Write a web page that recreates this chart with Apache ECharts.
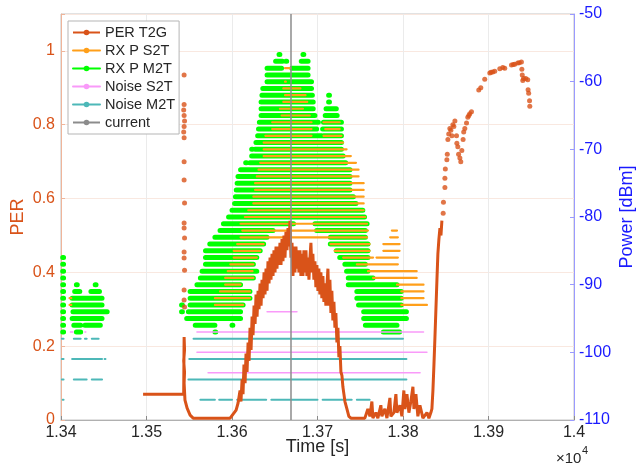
<!DOCTYPE html>
<html>
<head>
<meta charset="utf-8">
<script src="https://cdn.jsdelivr.net/npm/echarts@6/dist/echarts.min.js"></script>
<style>
  html, body { margin: 0; padding: 0; background: #fff; }
  #chart { width: 636px; height: 468px; }
</style>
</head>
<body>
<div id="chart"></div>
<script>
// x axis: time in seconds (labels shown as x10^4)
const xTicks = [13400, 13500, 13600, 13700, 13800, 13900, 14000]
const perTicks = [0, 0.2, 0.4, 0.6, 0.8, 1]
const powerTicks = [-110, -100, -90, -80, -70, -60, -50]
const currentTime = 13669

// PER T2G, connected part [time, PER]
const perLine = [
  [13496, 0.07], [13504, 0.07], [13512, 0.07], [13521, 0.07], [13529, 0.07], [13537, 0.07], [13543.5, 0.07],
  [13544, 0.225], [13544.5, 0.19], [13543.5, 0.16], [13544.5, 0.13], [13544, 0.1], [13545, 0.054],
  [13547.5, 0.032], [13551, 0.013], [13554.6, 0.005], [13597.8, 0.005], [13601.3, 0.016], [13604.8, 0.027],
  [13607.1, 0.046], [13609.4, 0.08], [13610.5, 0.05], [13611.8, 0.11], [13612.9, 0.07], [13614, 0.15],
  [13615.3, 0.1], [13616.4, 0.18], [13617.6, 0.13], [13618.8, 0.21], [13620, 0.16], [13621.1, 0.25],
  [13622.3, 0.19], [13623.5, 0.28], [13624.6, 0.23], [13625.8, 0.31], [13627, 0.26], [13628.1, 0.34],
  [13629.3, 0.28], [13630.5, 0.35], [13631.6, 0.3], [13632.8, 0.37], [13634, 0.31], [13635.1, 0.38],
  [13636.3, 0.33], [13637.5, 0.4], [13638.6, 0.34], [13639.8, 0.41], [13641, 0.35], [13642.1, 0.43],
  [13643.3, 0.37], [13644.5, 0.44], [13645.6, 0.38], [13646.8, 0.45], [13648, 0.39], [13649.1, 0.46],
  [13650.3, 0.4], [13651.5, 0.47], [13652.6, 0.41], [13653.8, 0.47], [13655, 0.42], [13656.1, 0.48],
  [13657.3, 0.42], [13658.5, 0.49], [13659.6, 0.43], [13660.8, 0.5], [13662, 0.44], [13663.1, 0.51],
  [13664.3, 0.46], [13665.5, 0.52], [13666.6, 0.47], [13667.8, 0.54], [13669, 0.44], [13670.2, 0.48],
  [13671.3, 0.39], [13672.5, 0.47], [13673.6, 0.4], [13674.8, 0.47], [13676, 0.41], [13677.1, 0.46],
  [13678.3, 0.4], [13679.5, 0.46], [13680.6, 0.39], [13681.8, 0.45], [13683, 0.39], [13684.1, 0.46],
  [13685.3, 0.4], [13686.5, 0.46], [13687.6, 0.39], [13688.8, 0.44], [13690, 0.38], [13691.2, 0.44],
  [13692.3, 0.48], [13693.5, 0.4], [13694.6, 0.45], [13695.8, 0.38], [13697, 0.43], [13698.1, 0.36],
  [13699.3, 0.42], [13700.5, 0.35], [13701.6, 0.41], [13702.8, 0.34], [13704, 0.4], [13705.1, 0.33],
  [13706.3, 0.39], [13707.5, 0.32], [13708.6, 0.37], [13709.8, 0.31], [13711, 0.36], [13712.2, 0.41],
  [13713.3, 0.31], [13714.5, 0.38], [13715.7, 0.29], [13716.8, 0.35], [13718, 0.27], [13719.2, 0.32],
  [13720.4, 0.25], [13721.5, 0.29], [13722.7, 0.21], [13723.9, 0.25], [13725, 0.17], [13726.2, 0.2],
  [13727.4, 0.13], [13728.6, 0.12], [13729.7, 0.09], [13730.9, 0.07], [13732.1, 0.05],
  [13734.4, 0.03], [13736.7, 0.01], [13739.1, 0.005], [13755.4, 0.005], [13758.9, 0.03], [13761.3, 0.01],
  [13763.6, 0.05], [13764.8, 0.005], [13768.3, 0.02], [13770.6, 0.005], [13774.1, 0.04], [13775.3, 0.01],
  [13778.8, 0.03], [13781.2, 0.005], [13784.7, 0.06], [13785.8, 0.01], [13789.3, 0.02], [13791.7, 0.07],
  [13792.9, 0.02], [13796.4, 0.04], [13798.7, 0.01], [13801, 0.08], [13802.2, 0.03], [13804.6, 0.07],
  [13806.9, 0.02], [13809.2, 0.05], [13811.6, 0.09], [13812.8, 0.03], [13815.1, 0.07], [13817.4, 0.01],
  [13819.8, 0.04], [13823.3, 0.005], [13828, 0.02], [13830.3, 0.005], [13832.6, 0.02], [13833.8, 0.03],
  [13835, 0.08], [13836.2, 0.15], [13837.3, 0.22], [13838.5, 0.3], [13839.7, 0.38], [13840.8, 0.45],
  [13842, 0.49], [13843.2, 0.52], [13844.4, 0.5], [13845.5, 0.54]
]

// PER T2G, isolated markers [time, PER]
const perDots = [
  [13544, 0.935], [13544, 0.855], [13543.5, 0.84], [13544, 0.825], [13544.5, 0.81], [13544, 0.795],
  [13543.5, 0.78], [13544, 0.765], [13544, 0.7], [13544, 0.65], [13544.5, 0.588], [13544, 0.534],
  [13544, 0.52], [13544.5, 0.493], [13544, 0.455], [13544, 0.439], [13544.5, 0.406], [13544, 0.352],
  [13544, 0.325], [13544.5, 0.306],
  [13847, 0.56], [13847.3, 0.59], [13849, 0.63], [13849, 0.655], [13849.5, 0.68], [13851.3, 0.705],
  [13851.8, 0.72], [13852.5, 0.76], [13853.5, 0.775], [13854.8, 0.79], [13856, 0.785], [13857.2, 0.77],
  [13858.3, 0.8], [13859.5, 0.795], [13860.7, 0.81], [13862.6, 0.77], [13863, 0.75], [13864.1, 0.74],
  [13865, 0.72], [13866.5, 0.71], [13867.6, 0.7], [13868.8, 0.73], [13870.3, 0.76], [13871, 0.78],
  [13872.3, 0.79], [13874.3, 0.805], [13875.8, 0.82], [13877, 0.825], [13878.1, 0.83], [13880.1, 0.835],
  [13888.6, 0.894], [13891, 0.9], [13895.6, 0.923], [13901.5, 0.94], [13903, 0.942], [13905, 0.943],
  [13907.3, 0.945], [13913.2, 0.952], [13916.7, 0.955], [13919, 0.953], [13926.9, 0.962], [13929, 0.963],
  [13930.7, 0.964], [13934.2, 0.967], [13936, 0.968], [13938.5, 0.97], [13939, 0.95], [13939.5, 0.935],
  [13940.1, 0.92], [13941, 0.925], [13943.6, 0.925], [13945.9, 0.922], [13946.3, 0.895], [13947, 0.885],
  [13948, 0.865], [13948.3, 0.85]
]

// RX P M2T rows: [dBm, tStart, tEnd]
const m2tSeg = [
  [-56, 13655, 13656], [-56, 13683, 13684],
  [-57, 13651, 13659], [-57, 13663, 13664], [-57, 13681, 13689],
  [-58, 13641, 13658], [-58, 13670, 13689],
  [-59, 13641, 13689], [-60, 13641, 13693], [-61, 13636, 13693],
  [-62, 13635, 13694], [-62, 13713, 13714],
  [-63, 13634, 13695], [-63, 13713, 13714],
  [-64, 13634, 13695], [-64, 13710, 13722],
  [-65, 13634, 13697], [-65, 13709, 13723],
  [-66, 13632, 13701], [-66, 13707, 13728],
  [-67, 13631, 13699], [-67, 13706, 13728],
  [-68, 13630, 13705], [-68, 13707, 13728],
  [-69, 13628, 13728],
  [-70, 13623, 13624], [-70, 13627, 13728],
  [-71, 13623, 13624], [-71, 13625, 13730],
  [-72, 13616, 13617], [-72, 13621, 13733],
  [-73, 13610, 13738], [-74, 13607, 13738], [-75, 13606, 13738], [-76, 13605, 13738],
  [-77, 13604, 13742], [-78, 13603, 13745], [-79, 13600, 13753], [-80, 13596, 13755],
  [-81, 13590, 13672], [-81, 13697, 13758],
  [-82, 13586, 13648], [-82, 13699, 13756],
  [-83, 13580, 13641], [-83, 13715, 13756],
  [-84, 13574, 13637], [-84, 13715, 13759],
  [-85, 13569, 13633], [-85, 13722, 13759],
  [-86, 13569, 13629], [-86, 13726, 13759],
  [-87, 13569, 13625], [-87, 13732, 13756],
  [-88, 13565, 13629], [-88, 13734, 13759],
  [-89, 13563, 13625], [-89, 13736, 13765],
  [-90, 13559, 13610], [-90, 13736, 13793],
  [-91, 13551, 13621], [-91, 13746, 13798],
  [-92, 13551, 13621], [-92, 13746, 13798],
  [-93, 13541, 13542], [-93, 13551, 13613], [-93, 13748, 13798],
  [-94, 13541, 13542], [-94, 13549, 13610], [-94, 13754, 13804],
  [-95, 13547, 13610], [-95, 13754, 13804],
  [-96, 13557, 13580], [-96, 13600, 13601], [-96, 13756, 13793],
  [-97, 13580, 13581], [-97, 13777, 13796],
  [-86, 13402, 13403], [-87, 13402, 13403], [-88, 13402, 13403], [-89, 13402, 13403],
  [-90, 13402, 13403], [-91, 13402, 13403], [-92, 13402, 13403], [-93, 13402, 13403],
  [-94, 13402, 13403], [-95, 13402, 13403], [-96, 13402, 13403], [-97, 13402, 13403],
  [-90, 13418, 13419], [-90, 13440, 13441],
  [-91, 13416, 13422], [-91, 13435, 13445],
  [-92, 13413, 13448], [-93, 13413, 13448], [-94, 13414, 13454], [-95, 13413, 13448],
  [-96, 13415, 13423], [-96, 13428, 13446], [-97, 13418, 13423]
]

// RX P S2T rows: [dBm, tStart, tEnd]
const s2tSeg = [
  [-58, 13662, 13668], [-60, 13662, 13663], [-61, 13660, 13680],
  [-62, 13662, 13686], [-63, 13660, 13688], [-64, 13656, 13683], [-65, 13658, 13691],
  [-66, 13647, 13693], [-66, 13707, 13726],
  [-67, 13647, 13693], [-67, 13709, 13726],
  [-68, 13639, 13693], [-68, 13707, 13728],
  [-69, 13637, 13730], [-70, 13637, 13734], [-71, 13637, 13739], [-72, 13633, 13745],
  [-73, 13631, 13748], [-74, 13629, 13748], [-75, 13627, 13754], [-76, 13627, 13754],
  [-77, 13625, 13754], [-78, 13625, 13754], [-79, 13619, 13754], [-80, 13615, 13756],
  [-81, 13610, 13758],
  [-82, 13612, 13759], [-82, 13787, 13793],
  [-83, 13610, 13758], [-83, 13785, 13794],
  [-84, 13606, 13637], [-84, 13715, 13761], [-84, 13777, 13796],
  [-85, 13602, 13633], [-85, 13720, 13761], [-85, 13777, 13796],
  [-86, 13602, 13629], [-86, 13730, 13765], [-86, 13769, 13794],
  [-87, 13598, 13625], [-87, 13746, 13794],
  [-88, 13595, 13624], [-88, 13759, 13816],
  [-89, 13592, 13625], [-89, 13765, 13816],
  [-90, 13592, 13610], [-90, 13793, 13824],
  [-91, 13586, 13621], [-91, 13798, 13824],
  [-92, 13580, 13621], [-92, 13798, 13824], [-92, 13410, 13412],
  [-93, 13580, 13613], [-93, 13798, 13828], [-93, 13410, 13412]
]

// Noise S2T rows: [dBm, tStart, tEnd]
const ns2tSeg = [
  [-94, 13641, 13676], [-97, 13559, 13824], [-100, 13559, 13828], [-103, 13572, 13820],
  [-97, 13411, 13414], [-97, 13428, 13429]
]

// Noise M2T rows: [dBm, tStart, tEnd]
const nm2tSeg = [
  [-98, 13555, 13800], [-101, 13550, 13804], [-104, 13549, 13804],
  [-107, 13563, 13580], [-107, 13585, 13600], [-107, 13606, 13640], [-107, 13646, 13700],
  [-107, 13706, 13740], [-107, 13746, 13761],
  [-98, 13401, 13403], [-98, 13415, 13423], [-98, 13428, 13430], [-98, 13436, 13444],
  [-101, 13401, 13403], [-101, 13413, 13448], [-101, 13451, 13452],
  [-104, 13401, 13403], [-104, 13415, 13430], [-104, 13436, 13448], [-107, 13402, 13403]
]

const colors = {
  per: '#D95319',
  s2t: '#FF9F1A',
  m2t: '#00FF00',
  ns2t: '#F99AF9',
  nm2t: '#4DB8B8',
  current: '#8C8C8C',
}

const FONT = 'Liberation Sans, Arial, Helvetica, sans-serif'

// turn row segments into a broken line
const segData = (rows) => {
  const out = []
  rows.forEach(([p, t0, t1]) => {
    out.push([t0, p], [t1, p], [t1, '-'])
  })
  return out
}

const chart = echarts.init(document.getElementById('chart'), null, { renderer: 'canvas' })

const rowSeries = (name, rows, color, width, z) => ({
  name,
  type: 'line',
  yAxisIndex: 1,
  data: segData(rows),
  symbol: 'none',
  connectNulls: false,
  animation: false,
  silent: true,
  z,
  itemStyle: { color },
  lineStyle: { color, width, cap: 'round' },
})

const option = {
  animation: false,
  grid: {
    left: 61, right: 62, top: 14, bottom: 48,
    outerBoundsMode: 'none',
    show: true, borderColor: '#c4c4c4', borderWidth: 1,
  },
  legend: {
    orient: 'vertical',
    left: 68,
    top: 21,
    padding: [4, 4, 4, 4],
    itemGap: 3,
    itemWidth: 27,
    itemHeight: 7,
    backgroundColor: '#fff',
    borderColor: '#b5b5b5',
    borderWidth: 1,
    borderRadius: 0,
    selectedMode: false,
    lineStyle: { width: 2 },
    textStyle: { fontFamily: FONT, fontSize: 14.5, color: '#262626' },
    data: ['PER T2G', 'RX P S2T', 'RX P M2T', 'Noise S2T', 'Noise M2T', 'current'],
  },
  xAxis: {
    type: 'value',
    min: xTicks[0],
    max: xTicks[xTicks.length - 1],
    interval: 100,
    name: 'Time [s]',
    nameLocation: 'middle',
    nameGap: 18,
    nameMoveOverlap: false,
    nameTextStyle: { fontFamily: FONT, fontSize: 18, color: '#262626' },
    axisLine: { lineStyle: { color: '#b0b0b0' } },
    axisTick: { inside: true, length: 4, lineStyle: { color: '#8a8a8a' } },
    axisLabel: {
      fontFamily: FONT, fontSize: 16, color: '#262626', margin: 5,
      formatter: (v) => String(+(v / 10000).toFixed(2)),
    },
    splitLine: { show: true, lineStyle: { color: '#ebebeb' } },
  },
  yAxis: [
    {
      type: 'value',
      min: 0,
      max: 1.1,
      interval: 0.2,
      position: 'left',
      name: 'PER',
      nameLocation: 'middle',
      nameGap: 34,
      nameMoveOverlap: false,
      nameTextStyle: { fontFamily: FONT, fontSize: 18, color: colors.per },
      axisLine: { show: true, lineStyle: { color: '#EFB59A' } },
      axisTick: { show: true, inside: true, length: 4, lineStyle: { color: '#EFB59A' } },
      axisLabel: {
        fontFamily: FONT, fontSize: 16, color: colors.per, margin: 6,
        formatter: (v) => (v > 1.05 ? '' : String(+v.toFixed(1))),
      },
      splitLine: { show: true, lineStyle: { color: '#F9E8E0' } },
    },
    {
      type: 'value',
      min: powerTicks[0],
      max: powerTicks[powerTicks.length - 1],
      interval: 10,
      position: 'right',
      name: 'Power [dBm]',
      nameLocation: 'middle',
      nameGap: 44,
      nameMoveOverlap: false,
      nameRotate: 90,
      nameTextStyle: { fontFamily: FONT, fontSize: 18, color: '#1a1aff' },
      axisLine: { show: true, lineStyle: { color: '#9a9aff' } },
      axisTick: { show: true, inside: true, length: 4, lineStyle: { color: '#9a9aff' } },
      axisLabel: { fontFamily: FONT, fontSize: 16, color: '#1a1aff', margin: 5 },
      splitLine: { show: false },
    },
  ],
  series: [
    {
      name: 'PER T2G',
      type: 'line',
      yAxisIndex: 0,
      data: perLine,
      symbol: 'circle',
      symbolSize: 3,
      showSymbol: false,
      animation: false,
      silent: true,
      z: 5,
      itemStyle: { color: colors.per },
      lineStyle: { color: colors.per, width: 3 },
    },
    rowSeries('RX P M2T', m2tSeg, colors.m2t, 5, 2),
    rowSeries('RX P S2T', s2tSeg, colors.s2t, 2.2, 3),
    rowSeries('Noise S2T', ns2tSeg, colors.ns2t, 1.5, 3),
    rowSeries('Noise M2T', nm2tSeg, colors.nm2t, 2, 3),
    {
      name: 'PER T2G',
      type: 'scatter',
      yAxisIndex: 0,
      data: perDots,
      symbolSize: 5,
      animation: false,
      silent: true,
      z: 5,
      itemStyle: { color: colors.per },
    },
    {
      name: 'current',
      type: 'line',
      yAxisIndex: 0,
      data: [[currentTime, 0], [currentTime, 1.1]],
      symbol: 'none',
      animation: false,
      silent: true,
      z: 6,
      itemStyle: { color: colors.current },
      lineStyle: { color: colors.current, width: 1.5 },
    },
  ],
  graphic: [
    { type: 'text', left: 556, top: 451, style: { text: '×10', fontFamily: FONT, fontSize: 15, fill: '#262626' } },
    { type: 'text', left: 582, top: 445, style: { text: '4', fontFamily: FONT, fontSize: 11, fill: '#262626' } },
  ],
}

chart.setOption(option)
</script>
</body>
</html>
